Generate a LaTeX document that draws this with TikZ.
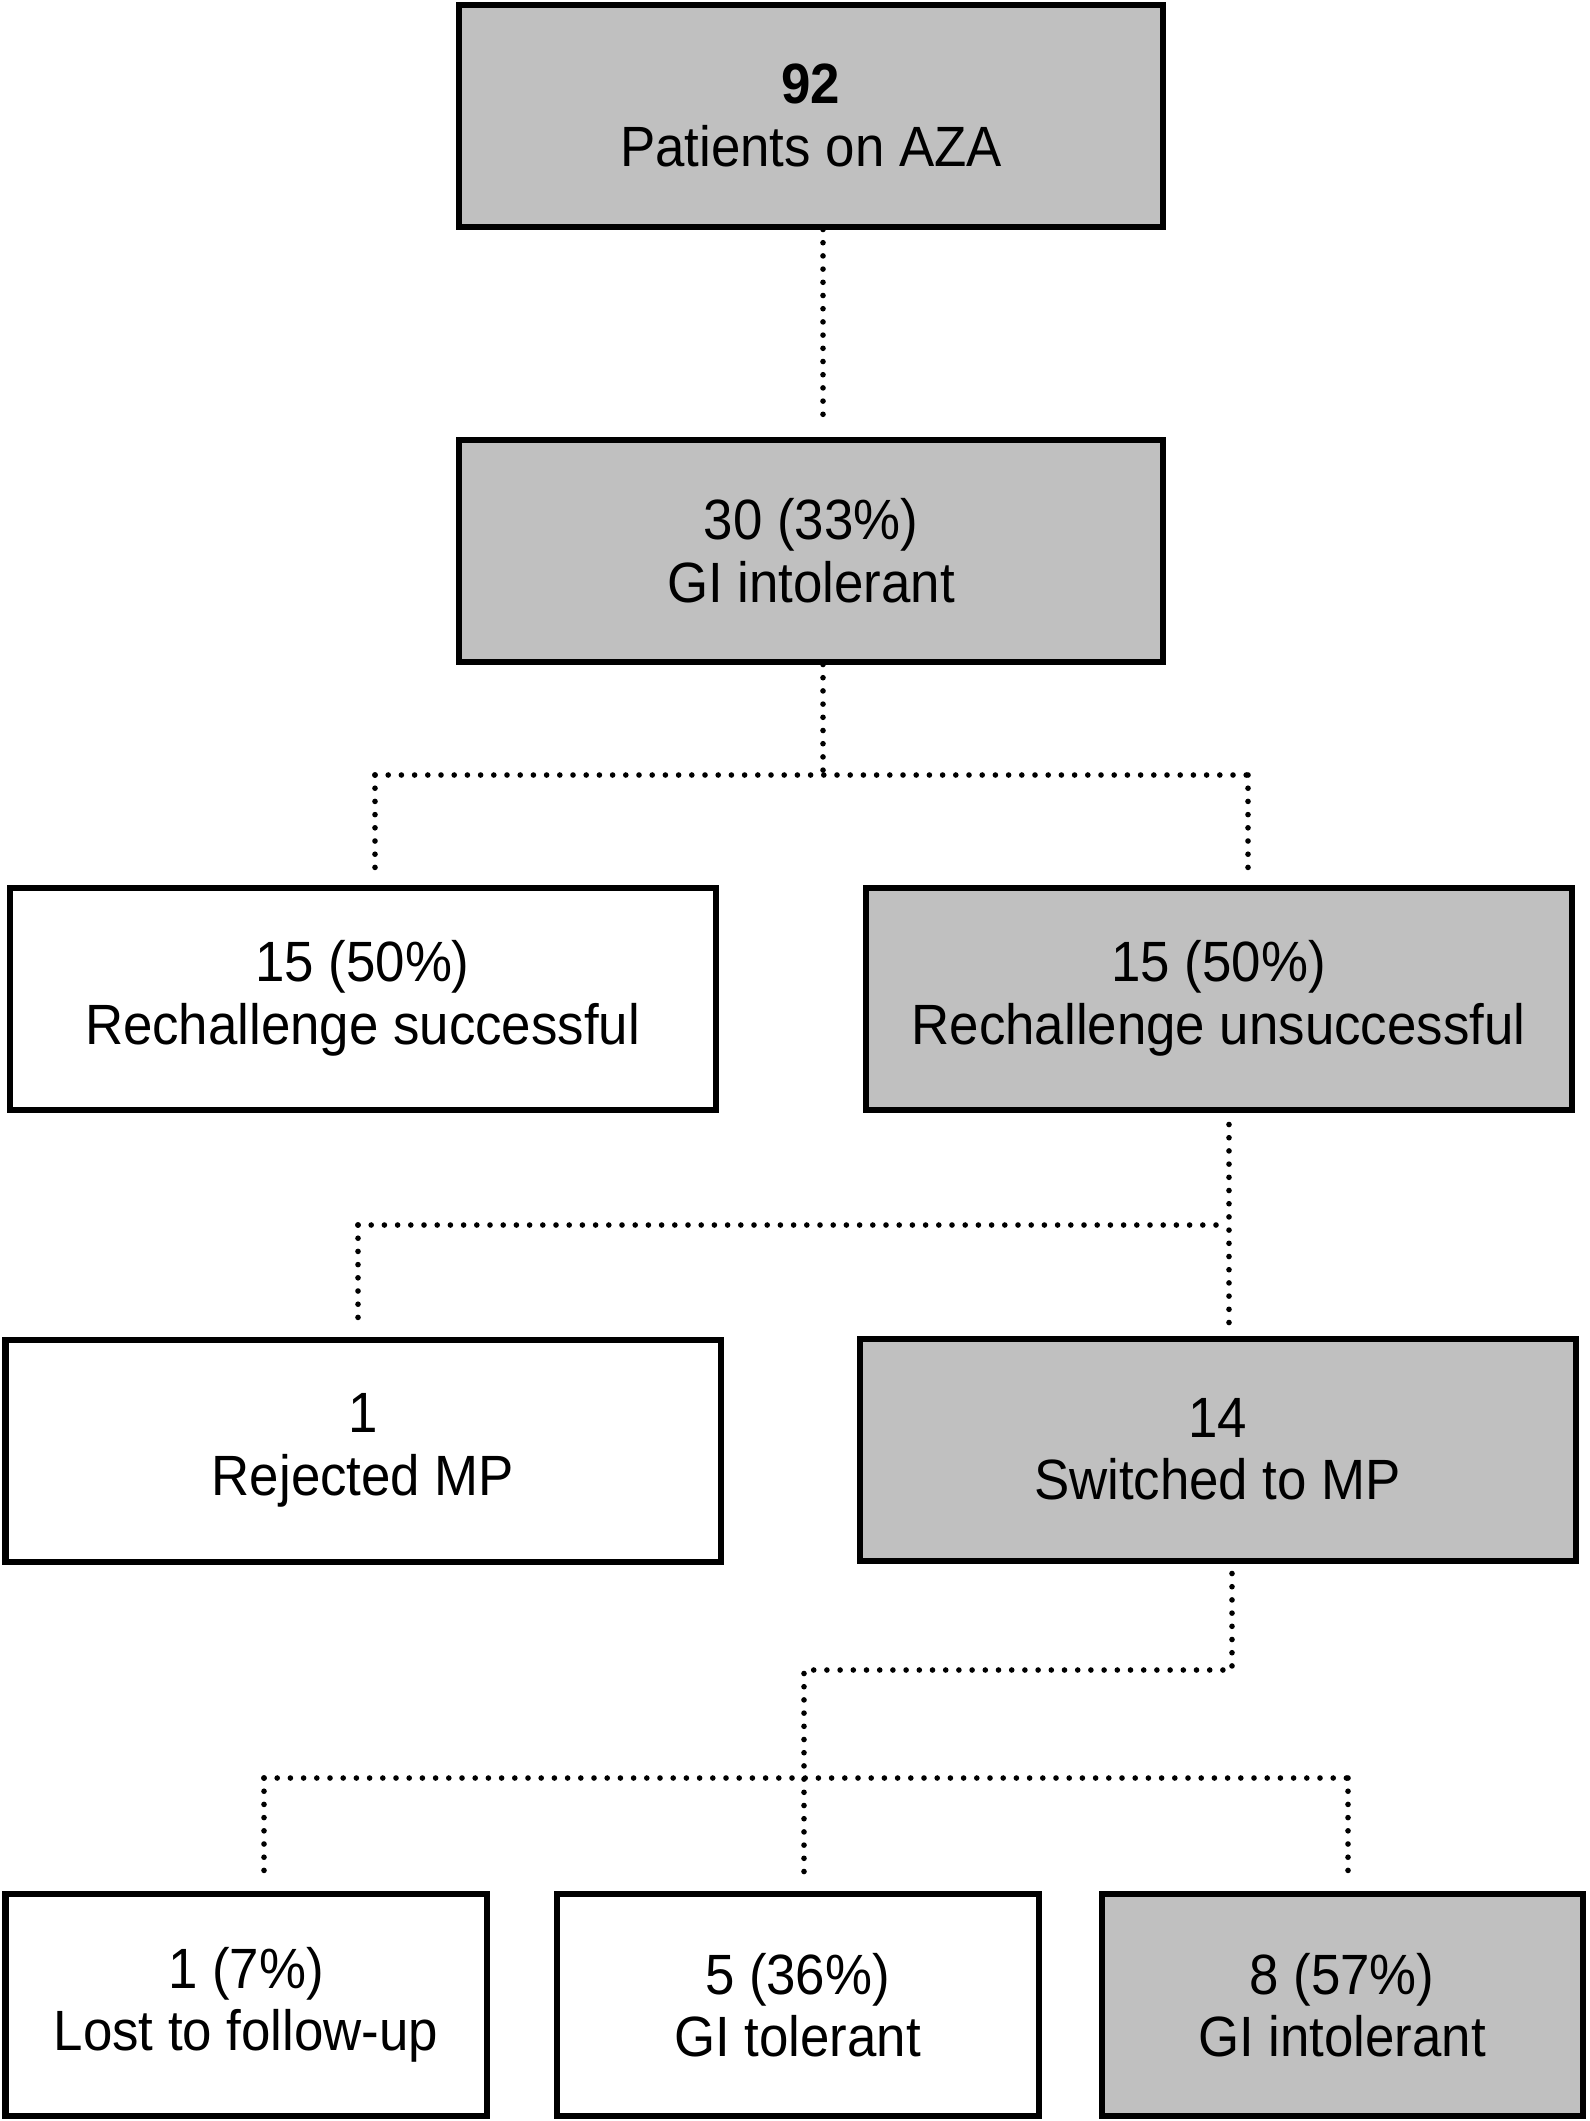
\documentclass[tikz,border=0pt]{standalone}
\usepackage{fontspec}
\setmainfont[FakeStretch=0.93]{Liberation Sans}
\usepackage{tikz}
\definecolor{boxgray}{HTML}{C0C0C0}

\begin{document}
\begin{tikzpicture}[x=0.25pt,y=-0.25pt,
  box/.style={draw,line width=1.5pt,align=center,inner sep=0pt,
    font=\fontsize{14.2}{15.6}\selectfont},
  grey/.style={box,fill=boxgray},
  link/.style={line width=1.4pt,line cap=round,dash pattern=on 0pt off 3.3pt}]
\useasboundingbox (0,0) rectangle (1589,2121);
\node[grey,minimum width=176pt,minimum height=55.5pt] (aza) at (811,115.5) {\textbf{92}\\Patients on AZA};
\node[grey,minimum width=176pt,minimum height=55.5pt] (gi) at (811,550.5) {30 (33\%)\\GI intolerant};
\node[box,minimum width=176.5pt,minimum height=55.5pt] (rs) at (362.5,998.5) {15 (50\%)\\Rechallenge successful};
\node[grey,minimum width=176.5pt,minimum height=55.5pt] (ru) at (1218.5,998.5) {15 (50\%)\\Rechallenge unsuccessful};
\node[box,minimum width=178.75pt,minimum height=55.5pt] (rej) at (363,1450.5) {1\\Rejected MP};
\node[grey,minimum width=179pt,minimum height=55.5pt] (mp) at (1217.5,1449.5) {14\\Switched to MP};
\node[box,minimum width=120.25pt,minimum height=55.5pt] (lost) at (246,2005) {1 (7\%)\\Lost to follow-up};
\node[box,minimum width=120.5pt,minimum height=55.5pt] (tol) at (797.5,2005) {5 (36\%)\\GI tolerant};
\node[grey,minimum width=120.25pt,minimum height=55.5pt] (intol) at (1342,2005) {8 (57\%)\\GI intolerant};
% junctions
\coordinate (t1) at (823,423);
\coordinate (b1) at (823,775);
\coordinate (b1l) at (375,775);
\coordinate (b1r) at (1248,775);
\coordinate (b2) at (1229,1225);
\coordinate (b2l) at (358,1225);
\coordinate (b3) at (1232,1670);
\coordinate (b3m) at (804,1670);
\coordinate (b4) at (804,1778);
\coordinate (b4l) at (264,1778);
\coordinate (b4r) at (1348,1778);
\draw[link] (aza.south -| t1) -- ([yshift=3.5pt]gi.north -| t1);
\draw[link] (gi.south -| b1) -- (b1);
\draw[link] (b1l) -- (b1r);
\draw[link] (b1l) -- ([yshift=3.5pt]rs.north -| b1l);
\draw[link] (b1r) -- ([yshift=1pt]ru.north -| b1r);
\draw[link] ([yshift=-3pt]ru.south -| b2) -- ([yshift=1pt]mp.north -| b2);
\draw[link] (b2l) -- (b2);
\draw[link] (b2l) -- ([yshift=4.5pt]rej.north -| b2l);
\draw[link] ([yshift=-2.5pt]mp.south -| b3) -- (b3) -- (b3m) -- ([yshift=4pt]tol.north -| b3m);
\draw[link] (b4l) -- (b4r);
\draw[link] (b4l) -- ([yshift=2.5pt]lost.north -| b4l);
\draw[link] (b4r) -- ([yshift=2.5pt]intol.north -| b4r);
\end{tikzpicture}
\end{document}
